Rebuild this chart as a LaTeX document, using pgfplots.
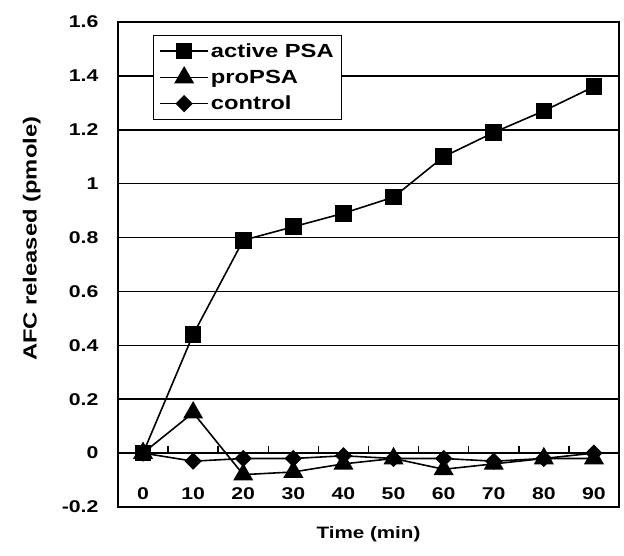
\documentclass[border=0pt]{standalone}
\usepackage{fontspec}
\setmainfont{Liberation Sans}[FakeStretch=1.25]
\usepackage{pgfplots}
\pgfplotsset{compat=1.18}
\newcommand\lab{\fontsize{17}{20}\selectfont\bfseries}
\newcommand\biglab{\fontsize{19}{23}\selectfont\bfseries}

\begin{document}
\begin{tikzpicture}
\begin{axis}[
  scale only axis,
  width=501pt, height=485pt,
  xmin=-5, xmax=95,
  ymin=-0.2, ymax=1.6,
  axis line style={line width=1.8pt},
  xtick={0,10,...,90},
  xticklabels={0,10,20,30,40,50,60,70,80,90},
  xtick style={draw=none},
  xticklabel style={font=\lab, anchor=base, yshift=7pt},
  ytick={-0.2,0,0.2,0.4,0.6,0.8,1,1.2,1.4,1.6},
  yticklabels={-0.2,0,0.2,0.4,0.6,0.8,1,1.2,1.4,1.6},
  ytick style={draw=none},
  yticklabel style={font=\lab, xshift=-16pt},
  ymajorgrids,
  major grid style={black, line width=1.5pt},
  xlabel={Time (min)},
  ylabel={AFC released (pmole)},
  xlabel style={font=\fontsize{16.5}{20}\selectfont\bfseries, at={(axis description cs:0.5,-0.056)}, anchor=center},
  ylabel style={font=\biglab, at={(axis description cs:-0.172,0.553)}, anchor=center},
  legend style={at={(axis description cs:0.07,0.973)}, anchor=north west,
    font=\biglab, draw=black, line width=0.6pt, fill=white,
    inner sep=6pt, row sep=7pt, cells={anchor=west}},
  legend image code/.code={
    \draw[mark repeat=2, mark phase=2] plot coordinates {(0pt,0pt) (24pt,0pt) (48pt,0pt)};
  },
]
% zero line with upward ticks between categories
\draw[line width=1.8pt] (axis cs:-5,0) -- (axis cs:95,0);
\draw[line width=1.5pt]
  (axis cs:5,0) -- ++(0pt,7pt) (axis cs:15,0) -- ++(0pt,7pt)
  (axis cs:25,0) -- ++(0pt,7pt) (axis cs:35,0) -- ++(0pt,7pt)
  (axis cs:45,0) -- ++(0pt,7pt) (axis cs:55,0) -- ++(0pt,7pt)
  (axis cs:65,0) -- ++(0pt,7pt) (axis cs:75,0) -- ++(0pt,7pt)
  (axis cs:85,0) -- ++(0pt,7pt);
\addplot[black, line width=1.6pt, mark=square*, mark size=7.5pt] coordinates {
(0,0) (10,0.44) (20,0.79) (30,0.84) (40,0.89) (50,0.95) (60,1.10) (70,1.19) (80,1.27) (90,1.36)
};
\addlegendentry{active PSA}
\addplot[black, line width=1.6pt, mark=triangle*, mark size=10pt] coordinates {
(0,0) (10,0.15) (20,-0.08) (30,-0.07) (40,-0.04) (50,-0.02) (60,-0.06) (70,-0.04) (80,-0.02) (90,-0.02)
};
\addlegendentry{proPSA}
\addplot[black, line width=1.6pt, mark=square*, mark size=5.3pt, mark options={rotate=45}] coordinates {
(0,0) (10,-0.03) (20,-0.02) (30,-0.02) (40,-0.01) (50,-0.02) (60,-0.02) (70,-0.03) (80,-0.02) (90,0.00)
};
\addlegendentry{control}
\end{axis}
\path (current axis.south west) ++(-118pt,-49pt) (current axis.north east) ++(5pt,22pt);
\end{tikzpicture}
\end{document}
